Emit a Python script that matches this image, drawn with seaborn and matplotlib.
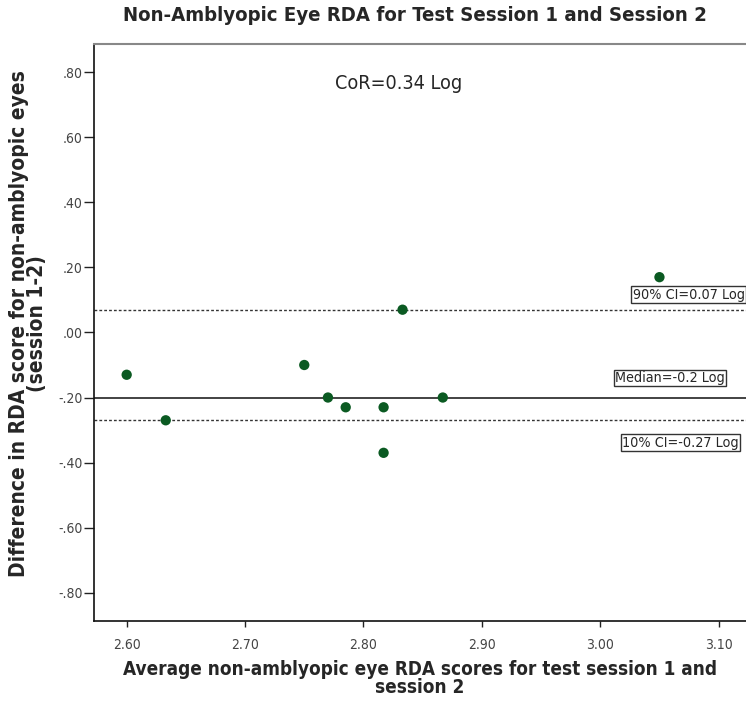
import matplotlib
matplotlib.use("Agg")
import matplotlib.pyplot as plt
import seaborn as sns
import pandas as pd
from matplotlib.ticker import FuncFormatter

avg_scores = [2.600, 2.633, 2.750, 2.770, 2.785, 2.817, 2.817, 2.833, 2.867, 3.050]
differences = [-0.13, -0.27, -0.10, -0.20, -0.23, -0.23, -0.37, 0.07, -0.20, 0.17]
median_val = -0.20
ci90 = 0.07
ci10 = -0.27
cor_text = "CoR=0.34 Log"
x_ticks = [2.60, 2.70, 2.80, 2.90, 3.00, 3.10]
y_ticks = [0.80, 0.60, 0.40, 0.20, 0.00, -0.20, -0.40, -0.60, -0.80]

df = pd.DataFrame({"avg": avg_scores, "diff": differences})

sns.set_style("white")
plt.rcParams['font.family'] = ['DejaVu Sans']
plt.rcParams['font.stretch'] = 'condensed'

fig = plt.figure(figsize=(7.46, 7.02), dpi=100)
ax = fig.add_axes([0.126, 0.1154, 0.874, 0.822])

sns.scatterplot(data=df, x="avg", y="diff", ax=ax, color="#0b5a22", s=55,
                edgecolor="none", zorder=3)

ax.axhline(median_val, color="#222222", lw=1.2, zorder=2)
ax.axhline(ci90, color="#333333", lw=1.0, ls=(0, (2, 1.5)), zorder=2)
ax.axhline(ci10, color="#333333", lw=1.0, ls=(0, (2, 1.5)), zorder=2)

ax.set_xlim(2.5724, 3.1231)
ax.set_ylim(-0.887, 0.887)
ax.set_xticks(x_ticks)
ax.set_yticks(y_ticks)
ax.xaxis.set_major_formatter(FuncFormatter(lambda v, p: f"{v:.2f}"))

def yfmt(v, p):
    s = f"{v:.2f}"
    s = s.replace("0.", ".")
    if s == "-.00":
        s = ".00"
    return s
ax.yaxis.set_major_formatter(FuncFormatter(yfmt))

ax.tick_params(axis="both", which="major", direction="out", width=1,
               color="#222222", labelsize=10, labelcolor="#444444",
               left=True, bottom=True)
ax.tick_params(axis="x", length=4.5, pad=7.5)
ax.tick_params(axis="y", length=7, pad=1)

for side in ["left", "bottom"]:
    ax.spines[side].set_color("#111111")
    ax.spines[side].set_linewidth(1.2)
ax.spines["top"].set_color("#888888")
ax.spines["top"].set_linewidth(1.5)
ax.spines["right"].set_visible(False)

box = dict(boxstyle="square,pad=0.1", fc="white", ec="#333333", lw=1.0)
ax.text(3.0275, 0.1166, "90% CI=0.07 Log", fontsize=10.3, va="center", ha="left",
        bbox=box, zorder=4)
ax.text(3.0125, -0.140, "Median=-0.2 Log", fontsize=10.3, va="center", ha="left",
        bbox=box, zorder=4)
ax.text(3.0185, -0.339, "10% CI=-0.27 Log", fontsize=10.3, va="center", ha="left",
        bbox=box, zorder=4)
ax.text(2.83, 0.765, cor_text, fontsize=14.2, va="center", ha="center")

ax.set_xlabel("Average non-amblyopic eye RDA scores for test session 1 and\nsession 2",
              fontsize=13.6, fontweight="bold", linespacing=0.95, labelpad=6)
ax.set_ylabel("Difference in RDA score for non-amblyopic eyes\n(session 1-2)",
              fontsize=15, fontweight="bold", linespacing=0.85)
ax.yaxis.set_label_coords(-0.072, 0.516)
fig.text(0.556, 0.978, "Non-Amblyopic Eye RDA for Test Session 1 and Session 2",
         fontsize=14.6, fontweight="bold", ha="center", va="center")

fig.savefig("out.png", dpi=100)
